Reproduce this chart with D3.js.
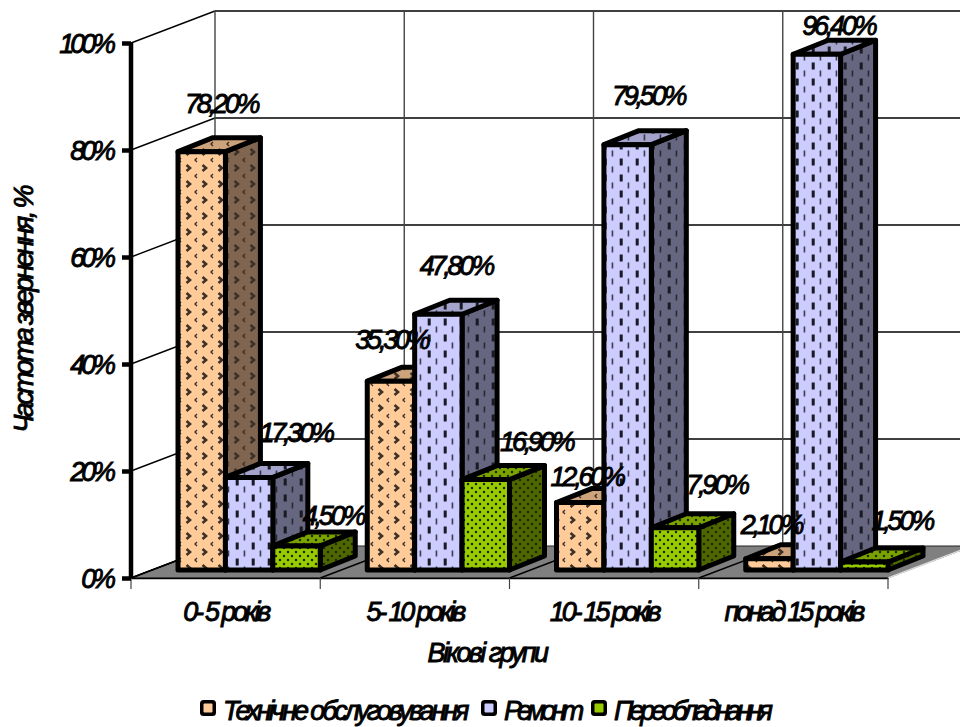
<!DOCTYPE html>
<html lang="uk">
<head>
<meta charset="utf-8">
<script src="https://cdn.jsdelivr.net/npm/d3@7/dist/d3.min.js"></script>
<style>
  html, body { margin: 0; background: #fff; }
  svg { display: block; }
  text { font-family: "Liberation Sans", Arial, sans-serif; font-style: italic; fill: #000; stroke: #000; stroke-width: .9px; }
  .tick-label { font-size: 27px; letter-spacing: -4.1px; }
  .value-label { font-size: 27px; letter-spacing: -3.2px; }
  .cat-label { font-size: 27px; letter-spacing: -3.2px; }
  .title-label { font-size: 27px; letter-spacing: -2.6px; }
  .legend-label { font-size: 27px; }
</style>
</head>
<body>
<script>
// Частота звернення за віковими групами
const categories = ["0- 5 років", "5- 10 років", "10- 15 років", "понад 15 років"];
const seriesNames = ["Технічне обслуговування", "Ремонт", "Переобладнання"];
const maintenance = [78.2, 35.3, 12.6, 2.1];
const repair = [17.3, 47.8, 79.5, 96.4];
const refit = [4.5, 16.9, 7.9, 1.5];
const percentTicks = [0, 20, 40, 60, 80, 100];
const seriesValues = [maintenance, repair, refit];

// Chart geometry: oblique projection of a box standing on the floor
const W = 960, H = 727;
const plotLeft = 131, plotRight = 888, plotBottom = 578, plotTop = 43;
const wallDx = 84, wallDy = -32;   // front plane to back wall
const barDx = 35, barDy = -14;     // thickness of a column
const barLift = 8;                 // columns stand a little behind the front edge
const groupPad = 47;

const fills = [
  { front: "#FFCC99", top: "#CCA37A", side: "#806650", ink: "#3d3026", kind: "chevron" },
  { front: "#CCCCFF", top: "#A3A3CC", side: "#666680", ink: "#1a1a22", kind: "dash" },
  { front: "#99CC00", top: "#7AA300", side: "#4D6600", ink: "#1c2600", kind: "dot" }
];

// Hand placement of each value label around its column top, by series then group
const labelNudge = [
  [[2, -39], [-17, -32], [-11, -17], [-16, -25]],
  [[29, -35], [0, -39], [3, -40], [4, -19]],
  [[19, -21], [33, -29], [24, -34], [20, -32]]
];

const x = d3.scaleBand().domain(categories).range([plotLeft, plotRight]);
const xInner = d3.scaleBand().domain(seriesNames).range([groupPad, x.step()]);
const y = d3.scaleLinear().domain([0, 100]).range([plotBottom, plotTop]);

const svg = d3.select("body").append("svg").attr("width", W).attr("height", H);
const defs = svg.append("defs");

// Hatch tiles, one per series and face shade
function addTile(id, bg, ink, kind) {
  const size = 16;
  const p = defs.append("pattern").attr("id", id).attr("patternUnits", "userSpaceOnUse")
    .attr("width", size).attr("height", size);
  p.append("rect").attr("width", size).attr("height", size).attr("fill", bg);
  if (kind === "chevron") {
    p.attr("patternTransform", "translate(8,4)");
    p.append("path").attr("d", "M2.5 1 L6 4 L2.5 7").attr("fill", "none").attr("stroke", ink).attr("stroke-width", 2.6);
    p.append("path").attr("d", "M13 10 L11 12 L13 14").attr("fill", "none").attr("stroke", ink).attr("stroke-width", 1.4);
  } else if (kind === "dash") {
    p.attr("patternTransform", "translate(8.7,-2.5)");
    p.append("rect").attr("x", 3).attr("y", 1).attr("width", 3).attr("height", 7).attr("fill", ink);
    p.append("rect").attr("x", 11).attr("y", 9).attr("width", 1.3).attr("height", 6).attr("fill", ink);
  } else {
    [[0, 0], [8, 0], [16, 0], [4, 4], [12, 4], [0, 8], [8, 8], [16, 8], [4, 12], [12, 12], [0, 16], [8, 16], [16, 16]].forEach(c => {
      p.append("circle").attr("cx", c[0]).attr("cy", c[1]).attr("r", 1.25).attr("fill", ink);
    });
  }
}
fills.forEach((f, i) => {
  ["front", "top", "side"].forEach(face => addTile(`tile-${i}-${face}`, f[face], f.ink, f.kind));
});

const pts = a => a.map(p => p.join(",")).join(" ");

// Floor
svg.append("polygon")
  .attr("points", pts([[plotLeft, plotBottom], [plotLeft + wallDx, plotBottom + wallDy], [plotRight + wallDx, plotBottom + wallDy], [plotRight, plotBottom]]))
  .attr("fill", "#808080").attr("stroke", "#222").attr("stroke-width", 1);

// Back wall and side wall grid
const grid = svg.append("g").attr("fill", "none").attr("stroke", "#000").attr("stroke-width", 1.4);
percentTicks.forEach(t => {
  grid.append("line").attr("x1", plotLeft).attr("y1", y(t)).attr("x2", plotLeft + wallDx).attr("y2", y(t) + wallDy);
  if (t > 0) {
    grid.append("line").attr("x1", plotLeft + wallDx).attr("y1", y(t) + wallDy).attr("x2", W).attr("y2", y(t) + wallDy);
  }
});
categories.forEach(c => {
  const x0 = x(c);
  grid.append("line").attr("x1", x0 + wallDx).attr("y1", y(100) + wallDy).attr("x2", x0 + wallDx).attr("y2", y(0) + wallDy)
    .attr("stroke", "#444");
  grid.append("line").attr("x1", x0).attr("y1", y(0)).attr("x2", x0 + wallDx).attr("y2", y(0) + wallDy);
});
grid.append("line").attr("x1", plotRight).attr("y1", y(0)).attr("x2", plotRight + wallDx).attr("y2", y(0) + wallDy).attr("stroke", "#ddd");

// Category axis along the front edge of the floor
const xAxis = d3.axisBottom(x).tickSize(0).tickPadding(43);
const xg = svg.append("g").attr("transform", `translate(0,${plotBottom})`).call(xAxis);
xg.select(".domain").attr("stroke", "#000").attr("stroke-width", 1.4);
xg.selectAll("text").attr("class", "cat-label").attr("fill", "#000").attr("dy", 0);
[...categories.map(c => x(c)), plotRight].forEach(px => {
  xg.append("line").attr("x1", px).attr("x2", px).attr("y1", 0).attr("y2", 11).attr("stroke", "#444").attr("stroke-width", 1.2);
});

// Columns
const barStroke = 5;
categories.forEach((c, gi) => {
  seriesNames.forEach((s, si) => {
    const v = seriesValues[si][gi];
    const x0 = x(c) + xInner(s), x1 = x0 + xInner.bandwidth();
    const yb = y(0) - barLift, yt = y(v) - barLift;
    const g = svg.append("g").attr("stroke", "#000").attr("stroke-width", barStroke).attr("stroke-linejoin", "round");
    g.append("polygon").attr("fill", `url(#tile-${si}-side)`)
      .attr("points", pts([[x1, yb], [x1 + barDx, yb + barDy], [x1 + barDx, yt + barDy], [x1, yt]]));
    g.append("polygon").attr("fill", `url(#tile-${si}-top)`)
      .attr("points", pts([[x0, yt], [x0 + barDx, yt + barDy], [x1 + barDx, yt + barDy], [x1, yt]]));
    g.append("rect").attr("fill", `url(#tile-${si}-front)`)
      .attr("x", x0).attr("y", yt).attr("width", x1 - x0).attr("height", yb - yt);
  });
});

// Value labels
const fmt = v => v.toFixed(2).replace(".", ",") + "%";
categories.forEach((c, gi) => {
  seriesNames.forEach((s, si) => {
    const v = seriesValues[si][gi];
    const cx = x(c) + xInner(s) + (xInner.bandwidth() + barDx) / 2;
    const [dx, dy] = labelNudge[si][gi];
    svg.append("text").attr("class", "value-label").attr("text-anchor", "middle")
      .attr("x", cx + dx).attr("y", y(v) - barLift + dy).text(fmt(v));
  });
});

// Percentage axis
const yAxis = d3.axisLeft(y).tickValues(percentTicks).tickFormat(d => d + "%").tickSize(9).tickPadding(10);
const yg = svg.append("g").attr("transform", `translate(${plotLeft},0)`).call(yAxis);
yg.select(".domain").attr("stroke", "#000").attr("stroke-width", 4.5).attr("d", `M0,${plotTop}V${plotBottom}`);
yg.selectAll(".tick line").attr("stroke", "#000").attr("stroke-width", 4.5);
yg.selectAll("text").attr("class", "tick-label").attr("fill", "#000").attr("dy", "0.34em");

// Axis titles
svg.append("text").attr("class", "title-label").attr("text-anchor", "middle")
  .attr("transform", "translate(33,310) rotate(-90)").text("Частота звернення, %");
svg.append("text").attr("class", "title-label").attr("text-anchor", "middle")
  .attr("x", 487).attr("y", 662).text("Вікові групи");

// Legend
const legendX = [200, 481, 591];
const legendTracking = [-3.1, -4.6, -4.2];
seriesNames.forEach((s, i) => {
  const lx = legendX[i];
  svg.append("rect").attr("x", lx).attr("y", 700).attr("width", 16).attr("height", 16).attr("rx", 3.5).attr("fill", "#000");
  svg.append("rect").attr("x", lx + 3.5).attr("y", 703.5).attr("width", 9).attr("height", 9).attr("rx", 1)
    .attr("fill", fills[i].front);
  svg.append("text").attr("class", "legend-label").attr("x", lx + 23).attr("y", 720)
    .style("letter-spacing", legendTracking[i] + "px").text(s);
});
</script>
</body>
</html>
